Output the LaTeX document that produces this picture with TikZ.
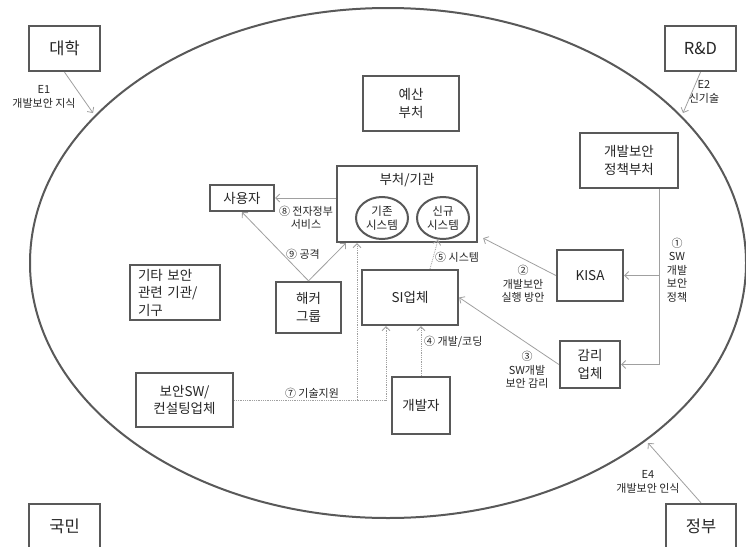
\documentclass[tikz,border=0pt]{standalone}
\usepackage{fontspec}
\setmainfont{Noto Sans CJK KR}
\usetikzlibrary{arrows.meta,calc,shapes.geometric}
\definecolor{boxc}{HTML}{595959}
\definecolor{conc}{HTML}{A0A0A0}
\definecolor{txtc}{HTML}{262626}
\begin{document}
\begin{tikzpicture}[x=1pt,y=-1pt,
 box/.style={draw=boxc,line width=2.3pt,fill=white,inner sep=1pt,align=center,text=txtc,font=\fontsize{13.5}{17.5}\selectfont},
 bigbox/.style={box,font=\fontsize{16.5}{20}\selectfont},
 sys/.style={draw=boxc,line width=2pt,ellipse,inner sep=0pt,align=center,font=\fontsize{11.5}{14}\selectfont,text=txtc},
 conn/.style={draw=conc,line width=0.8pt,-{Straight Barb[length=4pt,width=8pt]}},
 dotc/.style={conn,densely dotted},
 lbl/.style={text=txtc,font=\fontsize{11}{13.5}\selectfont,align=center,inner sep=0pt}]
\useasboundingbox (0,0) rectangle (746,546);
\clip (0,0) rectangle (746,546);
\fill[white] (0,0) rectangle (746,546);
% outer ellipse
\draw[boxc,line width=2pt] (388,263) ellipse [x radius=358pt, y radius=255pt];
\coordinate (e1) at (93,113);
\coordinate (e2) at (683,113);
\coordinate (e4) at (648,443);
% outer boxes
\node[bigbox,minimum width=71pt,minimum height=45pt] (daehak) at (64.5,48.5) {대학};
\node[bigbox,minimum width=71pt,minimum height=45pt] (rnd) at (700.5,48.5) {R\&D};
\node[bigbox,minimum width=71pt,minimum height=45pt] (gukmin) at (64.5,526.5) {국민};
\node[bigbox,minimum width=70pt,minimum height=45pt] (jeongbu) at (701,526.5) {정부};
% inner boxes
\node[box,minimum width=96pt,minimum height=55pt] (yesan) at (411,103.5) {예산\\부처};
\node[box,minimum width=98pt,minimum height=55pt] (policy) at (629,160.5) {개발보안\\정책부처};
\node[box,minimum width=66pt,minimum height=51pt] (kisa) at (590,275.5) {KISA};
\node[box,minimum width=60pt,minimum height=47pt] (gamri) at (590,364.5) {감리\\업체};
\node[box,minimum width=96pt,minimum height=55pt] (si) at (410,297.5) {SI업체};
\node[box,minimum width=58pt,minimum height=57pt] (dev) at (421,405.5) {개발자};
\node[box,minimum width=97pt,minimum height=54pt] (secsw) at (184.5,400) {보안SW/\\컨설팅업체};
\node[box,minimum width=90pt,minimum height=55pt,text width=74pt,align=left] (etc) at (175,292.5) {기타 보안\\관련 기관/\\기구};
\node[box,minimum width=64pt,minimum height=26pt] (user) at (242,198) {사용자};
\node[box,minimum width=65pt,minimum height=51pt] (hacker) at (308.5,307.5) {해커\\그룹};
\node[box,minimum width=140pt,minimum height=76pt] (bucheo) at (407,204) {};
\node[text=txtc,font=\fontsize{13.5}{17.5}\selectfont,inner sep=0pt] (bucheot) at (407,180) {부처/기관};
\node[sys,minimum width=52pt,minimum height=42pt] (old) at (382,218) {기존\\시스템};
\node[sys,minimum width=52pt,minimum height=42pt] (new) at (443,218) {신규\\시스템};
% external connectors
\draw[conn] (daehak.south) -- (e1);
\draw[conn] (rnd.south) -- (e2);
\draw[conn] (jeongbu.north) -- (e4);
\node[lbl] (l1) at (44,97) {E1\\개발보안 지식};
\node[lbl] (l2) at (704,92) {E2\\신기술};
\node[lbl] (l4) at (648,482) {E4\\개발보안 인식};
% policy
\coordinate (pv) at ([xshift=30pt]policy.south);
\draw[conn] (pv) |- (kisa.east);
\draw[conn] (pv) |- (gamri.east);
\node[lbl] (lp1) at (677,270) {①\\SW\\개발\\보안\\정책};
% KISA -> bucheo
\draw[conn] (kisa.west) -- ([xshift=5pt,yshift=5pt]bucheo.south east);
\node[lbl] (lp2) at (523,284) {②\\개발보안\\실행 방안};
% gamri -> SI
\draw[conn] (gamri.west) -- (si.east);
\node[lbl] (lp3) at (527,370) {③\\SW개발\\보안 감리};
% dev -> SI
\draw[dotc] (dev.north) -- (si.south -| dev.north);
\node[lbl,anchor=west] (lp4) at (424,342) {④ 개발/코딩};
% SI -> new system
\draw[dotc] ([xshift=20pt]si.north) -- ([xshift=-5pt]new.south);
\node[lbl,anchor=west] (lp5) at (435,257) {⑤ 시스템};
% security SW -> SI and bucheo
\coordinate (j1) at (357,400);
\draw[dotc] (secsw.east) -| ([xshift=-24pt]si.south);
\draw[dotc] (j1) -- (j1 |- bucheo.south);
\node[lbl] (lp7) at (312,393) {⑦ 기술지원};
% bucheo -> user
\draw[conn] (user.east -| bucheo.west) -- (user.east);
\node[lbl] (lp8) at (306,218) {⑧ 전자정부\\서비스};
% hacker
\draw[conn] (hacker.north) -- (user.south);
\draw[conn] (hacker.north) -- ([xshift=10pt]bucheo.south west);
\node[lbl] (lp9) at (303,254) {⑨ 공격};
\end{tikzpicture}
\end{document}
